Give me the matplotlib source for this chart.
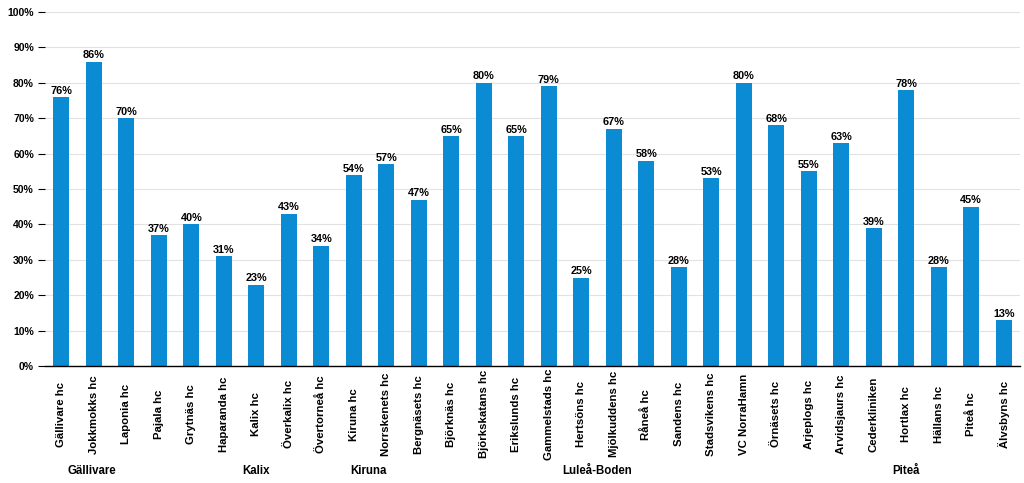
import matplotlib
matplotlib.use("Agg")
import matplotlib.pyplot as plt
import numpy as np

# units (x tick labels) and their share
units = ["Gällivare hc", "Jokkmokks hc", "Laponia hc", "Pajala hc",
         "Grytnäs hc", "Haparanda hc", "Kalix hc", "Överkalix hc", "Övertorneå hc",
         "Kiruna hc", "Norrskenets hc", "Bergnäsets hc",
         "Björknäs hc", "Björkskatans hc", "Erikslunds hc", "Gammelstads hc",
         "Hertsöns hc", "Mjölkuddens hc", "Råneå hc", "Sandens hc",
         "Stadsvikens hc", "VC NorraHamn", "Örnäsets hc",
         "Arjeplogs hc", "Arvidsjaurs hc", "Cederkliniken", "Hortlax hc",
         "Hällans hc", "Piteå hc", "Älvsbyns hc"]
values = [76, 86, 70, 37, 40, 31, 23, 43, 34, 54, 57, 47, 65, 80, 65, 79,
          25, 67, 58, 28, 53, 80, 68, 55, 63, 39, 78, 28, 45, 13]

# group labels under the unit names
groups = ["Gällivare", "Kalix", "Kiruna", "Luleå-Boden", "Piteå"]
group_pos = [0.95, 6.0, 9.45, 16.5, 26.0]

fig = plt.figure(figsize=(10.24, 4.83), dpi=100)
ax = fig.add_axes([0.044, 0.242, 0.952, 0.733])

x = np.arange(len(units))
bars = ax.bar(x, values, width=0.5, color="#0A8BD4", zorder=3)

for xi, v in zip(x, values):
    ax.text(xi, v + 0.4, f"{v}%", ha="center", va="bottom",
            fontsize=7.8, fontweight="bold", family="Liberation Sans")

ax.set_xlim(-0.5, len(units) - 0.5)
ax.set_ylim(0, 100)
ax.set_yticks(range(0, 101, 10))
ax.set_yticklabels([f"{t}%" for t in range(0, 101, 10)],
                   fontsize=7.5, fontweight="bold", family="Liberation Sans")
ax.tick_params(axis="y", length=5, width=0.8, pad=3)
ax.set_xticks(x)
ax.set_xticklabels([])
ax.tick_params(axis="x", length=0)

# unit names, centred in the band under the axis
for xi, name in zip(x, units):
    ax.text(xi, -0.136, name, transform=ax.get_xaxis_transform(), rotation=90,
            ha="center", va="center", fontsize=8.2, fontweight="bold",
            family="Liberation Sans")

ax.grid(axis="y", color="#e2e2e2", linewidth=0.8, zorder=0)
for s in ["top", "right", "left"]:
    ax.spines[s].set_visible(False)
ax.spines["bottom"].set_color("black")
ax.spines["bottom"].set_linewidth(1.0)
ax.spines["bottom"].set_zorder(4)

for g, p in zip(groups, group_pos):
    ax.text(p, -0.295, g, transform=ax.get_xaxis_transform(), ha="center",
            va="center", fontsize=8.3, fontweight="bold", family="Liberation Sans")

fig.savefig("out.png", dpi=100)
